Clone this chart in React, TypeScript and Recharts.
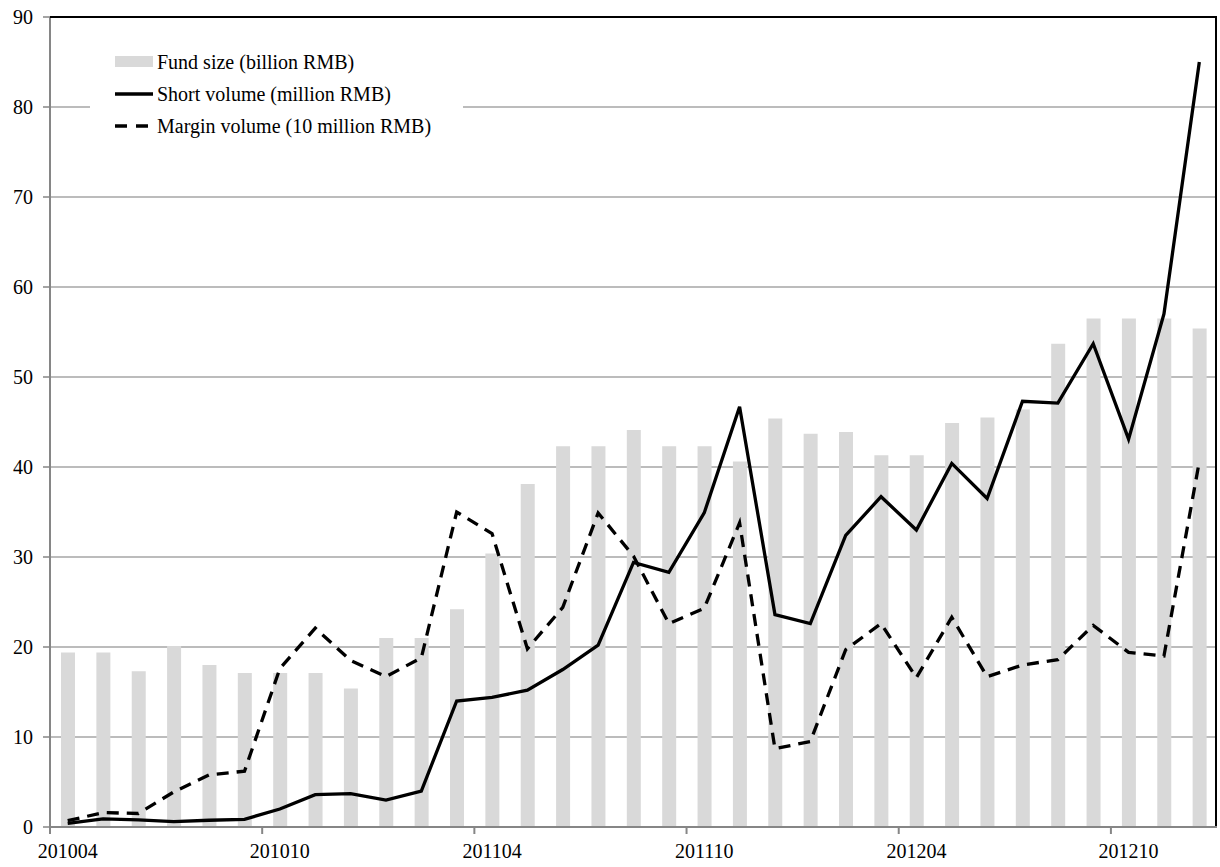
import React from 'react';
import {
  ComposedChart,
  Bar,
  Line,
  XAxis,
  YAxis,
  CartesianGrid,
  Legend,
} from 'recharts';

const months = [
  '201004', '201005', '201006', '201007', '201008', '201009', '201010', '201011', '201012',
  '201101', '201102', '201103', '201104', '201105', '201106', '201107', '201108', '201109',
  '201110', '201111', '201112', '201201', '201202', '201203', '201204', '201205', '201206',
  '201207', '201208', '201209', '201210', '201211', '201212',
];

// Fund size (billion RMB)
const fundSize = [
  19.4, 19.4, 17.3, 20.1, 18.0, 17.1, 17.1, 17.1, 15.4, 21.0, 21.0, 24.2, 30.4, 38.1, 42.3, 42.3, 44.1,
  42.3, 42.3, 40.6, 45.4, 43.7, 43.9, 41.3, 41.3, 44.9, 45.5, 46.4, 53.7, 56.5, 56.5, 56.5, 55.4,
];

// Short volume (million RMB)
const shortVolume = [
  0.4, 0.9, 0.8, 0.6, 0.75, 0.85, 2.0, 3.6, 3.7, 3.0, 4.0, 14.0, 14.4, 15.2, 17.5, 20.2, 29.4,
  28.3, 34.9, 46.7, 23.6, 22.6, 32.4, 36.7, 33.0, 40.4, 36.5, 47.3, 47.1, 53.7, 43.1, 57.0, 85.0,
];

// Margin volume (10 million RMB)
const marginVolume = [
  0.7, 1.6, 1.5, 3.9, 5.8, 6.2, 17.6, 22.1, 18.5, 16.7, 18.8, 35.0, 32.6, 19.8, 24.4, 34.9, 30.1,
  22.6, 24.3, 33.8, 8.7, 9.5, 19.7, 22.6, 16.6, 23.3, 16.7, 18.0, 18.6, 22.4, 19.4, 19.0, 40.6,
];

const yTicks = [0, 10, 20, 30, 40, 50, 60, 70, 80, 90];

const data = months.map((m, i) => ({
  month: m,
  fund: fundSize[i],
  short: shortVolume[i],
  margin: marginVolume[i],
}));

const W = 1220;
const H = 867;
const TOP = 17;
const RIGHT = 3;
const Y_AXIS_W = 50;
const X_AXIS_H = 40;
const PLOT_W = W - Y_AXIS_W - RIGHT;
const HALF_BAND = PLOT_W / months.length / 2;

const FONT = '"Liberation Serif", "Times New Roman", serif';
const AXIS_GRAY = '#868686';
const LINE_W = 3.3;
const DASH = '12 8';

function MonthTick(props: any) {
  const { x, y, payload } = props;
  return (
    <g>
      <line x1={x - HALF_BAND} x2={x - HALF_BAND} y1={y} y2={y + 7} stroke={AXIS_GRAY} strokeWidth={2} />
      <text x={x} y={y + 31} textAnchor="middle" fontSize={20} fontFamily={FONT} fill="#000">
        {payload.value}
      </text>
    </g>
  );
}

function LegendBox() {
  const rows = [
    { label: 'Fund size (billion RMB)', kind: 'bar' },
    { label: 'Short volume (million RMB)', kind: 'line' },
    { label: 'Margin volume (10 million RMB)', kind: 'dash' },
  ];
  return (
    <div style={{ background: '#fff', width: 373, height: 112, paddingTop: 8, boxSizing: 'border-box' }}>
      {rows.map((r) => (
        <div key={r.label} style={{ display: 'flex', alignItems: 'center', height: 32, fontFamily: FONT, fontSize: 20, color: '#000' }}>
          <svg width={67} height={32} style={{ flex: 'none' }}>
            {r.kind === 'bar' && <rect x={25} y={10} width={38} height={11} fill="#d9d9d9" />}
            {r.kind === 'line' && <line x1={25} x2={63} y1={16} y2={16} stroke="#000" strokeWidth={LINE_W} />}
            {r.kind === 'dash' && (
              <line x1={25} x2={63} y1={16} y2={16} stroke="#000" strokeWidth={LINE_W} strokeDasharray="12 9" />
            )}
          </svg>
          <span style={{ whiteSpace: 'nowrap' }}>{r.label}</span>
        </div>
      ))}
    </div>
  );
}

export default function App() {
  return (
    <div style={{ position: 'absolute', left: 0, top: 0, width: W, height: H, background: '#fff' }}>
      <ComposedChart
        width={W}
        height={H}
        data={data}
        margin={{ top: TOP, right: RIGHT, left: 0, bottom: 0 }}
        barCategoryGap="10%"
      >
        <CartesianGrid vertical={false} stroke="#a6a6a6" strokeWidth={1.5} />
        <XAxis
          dataKey="month"
          height={X_AXIS_H}
          interval={5}
          tickLine={false}
          tickSize={0}
          tickMargin={0}
          axisLine={{ stroke: AXIS_GRAY, strokeWidth: 2 }}
          tick={<MonthTick />}
        />
        <YAxis
          width={Y_AXIS_W}
          domain={[0, 90]}
          ticks={yTicks}
          interval={0}
          tickSize={7}
          tickMargin={10}
          axisLine={{ stroke: AXIS_GRAY, strokeWidth: 2 }}
          tickLine={{ stroke: AXIS_GRAY, strokeWidth: 1.5 }}
          tick={{ fill: '#000', fontSize: 20, fontFamily: FONT }}
        />
        <Legend
          layout="horizontal"
          verticalAlign="middle"
          align="center"
          wrapperStyle={{ left: 90, top: 38, width: 373, height: 112 }}
          content={() => <LegendBox />}
        />
        <Bar dataKey="fund" fill="#d9d9d9" barSize={14} isAnimationActive={false} />
        <Line
          type="linear"
          dataKey="margin"
          stroke="#000"
          strokeWidth={LINE_W}
          strokeDasharray={DASH}
          dot={false}
          activeDot={false}
          isAnimationActive={false}
        />
        <Line
          type="linear"
          dataKey="short"
          stroke="#000"
          strokeWidth={LINE_W}
          dot={false}
          activeDot={false}
          isAnimationActive={false}
        />
      </ComposedChart>
      <div
        style={{
          position: 'absolute',
          left: Y_AXIS_W,
          top: TOP - 1,
          width: PLOT_W,
          height: H - TOP - X_AXIS_H,
          borderTop: '2px solid #000',
          borderRight: '2px solid #000',
          boxSizing: 'border-box',
          pointerEvents: 'none',
        }}
      />
    </div>
  );
}
